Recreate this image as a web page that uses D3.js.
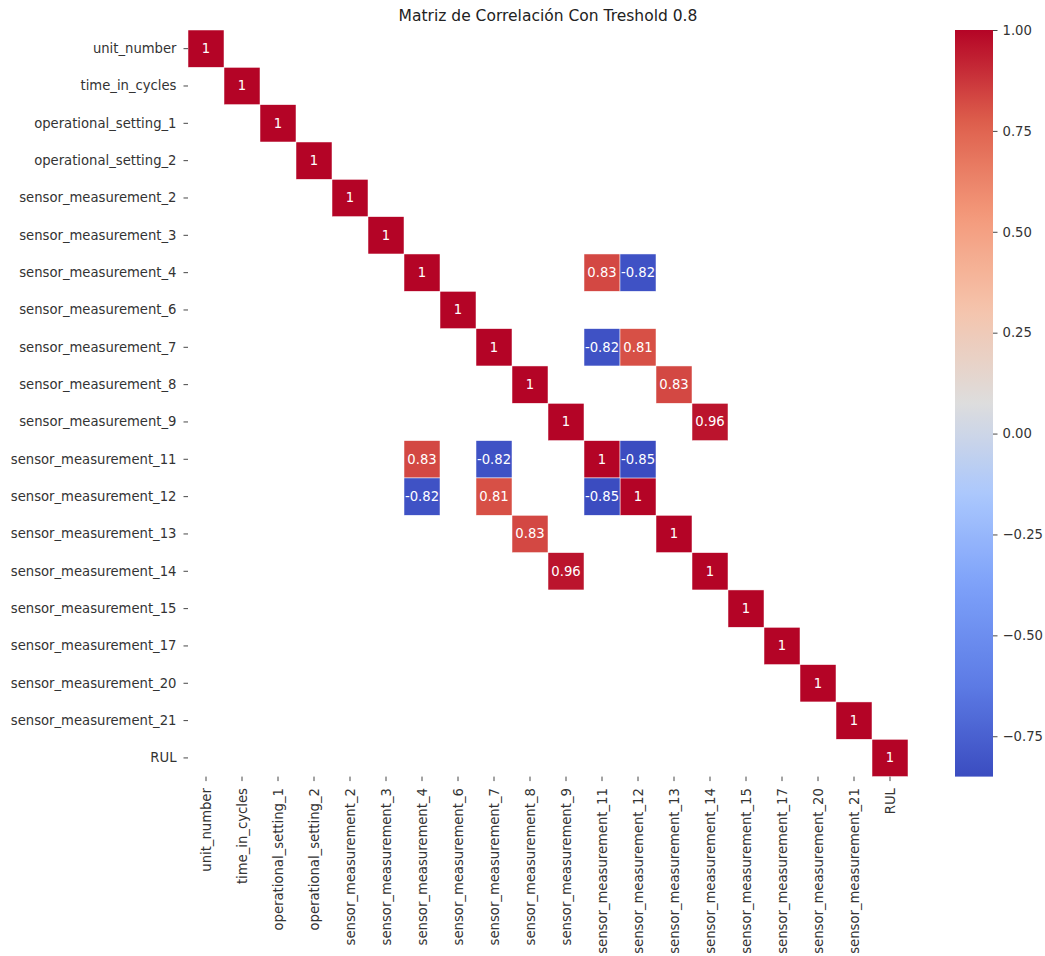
<!DOCTYPE html>
<html>
<head>
<meta charset="utf-8">
<script src="https://cdn.jsdelivr.net/npm/d3@7"></script>
<style>
  body { margin: 0; background: #fff; }
  text { font-family: "DejaVu Sans", sans-serif; }
</style>
</head>
<body>
<div id="heatmap"></div>
<script>
// variables kept after the 0.8 threshold
var labels = ["unit_number", "time_in_cycles", "operational_setting_1", "operational_setting_2",
  "sensor_measurement_2", "sensor_measurement_3", "sensor_measurement_4", "sensor_measurement_6",
  "sensor_measurement_7", "sensor_measurement_8", "sensor_measurement_9", "sensor_measurement_11",
  "sensor_measurement_12", "sensor_measurement_13", "sensor_measurement_14", "sensor_measurement_15",
  "sensor_measurement_17", "sensor_measurement_20", "sensor_measurement_21", "RUL"];

// off-diagonal pairs with |r| >= 0.8 (symmetric)
var pairA = ["sensor_measurement_4", "sensor_measurement_4", "sensor_measurement_7", "sensor_measurement_7",
  "sensor_measurement_8", "sensor_measurement_9", "sensor_measurement_11"];
var pairB = ["sensor_measurement_11", "sensor_measurement_12", "sensor_measurement_11", "sensor_measurement_12",
  "sensor_measurement_13", "sensor_measurement_14", "sensor_measurement_12"];
var pairR = [0.83, -0.82, -0.82, 0.81, 0.83, 0.96, -0.85];

var colorbarTicks = [1.00, 0.75, 0.50, 0.25, 0.00, -0.25, -0.50, -0.75];
var vmin = -0.85, vmax = 1.0;

// build cell list
var cells = [];
labels.forEach(function(l) { cells.push({ row: l, col: l, value: 1 }); });
pairA.forEach(function(a, i) {
  cells.push({ row: a, col: pairB[i], value: pairR[i] });
  cells.push({ row: pairB[i], col: a, value: pairR[i] });
});

// dimensions
var margin = {top: 30, left: 188},
    width = 720,
    height = 746.6;

var svg = d3.select("#heatmap")
  .append("svg")
    .attr("width", 1045)
    .attr("height", 956);

var g = svg.append("g")
    .attr("transform", "translate(" + margin.left + "," + margin.top + ")");

var x = d3.scaleBand().domain(labels).range([0, width]);
var y = d3.scaleBand().domain(labels).range([0, height]);

// coolwarm colormap (approx. matplotlib)
var cwStops = [0, 0.125, 0.25, 0.375, 0.5, 0.625, 0.75, 0.875, 1];
var cwColors = ["#3b4cc0", "#5d7ce6", "#7b9ff9", "#aac7fd", "#dddddd", "#f5c4ac", "#f49a7b", "#de604d", "#b40426"];
var cw = d3.scaleLinear().domain(cwStops).range(cwColors).interpolate(d3.interpolateRgb);
var color = function(v) { return cw((v - vmin) / (vmax - vmin)); };

// cells
g.selectAll("rect.cell")
  .data(cells)
  .enter()
  .append("rect")
    .attr("class", "cell")
    .attr("x", function(d) { return x(d.col); })
    .attr("y", function(d) { return y(d.row); })
    .attr("width", x.bandwidth())
    .attr("height", y.bandwidth())
    .style("fill", function(d) { return color(d.value); })
    .style("stroke", "#fff")
    .style("stroke-width", 0.5);

// annotations
g.selectAll("text.annot")
  .data(cells)
  .enter()
  .append("text")
    .attr("class", "annot")
    .attr("x", function(d) { return x(d.col) + x.bandwidth() / 2; })
    .attr("y", function(d) { return y(d.row) + y.bandwidth() / 2; })
    .attr("text-anchor", "middle")
    .attr("dominant-baseline", "central")
    .attr("font-size", "13.2px")
    .style("fill", "#fff")
    .text(function(d) { return d.value === 1 ? "1" : d3.format(".2f")(d.value).replace("\u2212", "-"); });

// axes
var yAxis = g.append("g")
    .call(d3.axisLeft(y).tickSize(4.5).tickPadding(7));
var xAxis = g.append("g")
    .attr("transform", "translate(0," + height + ")")
    .call(d3.axisBottom(x).tickSize(4.5).tickPadding(4));

[xAxis, yAxis].forEach(function(a) {
  a.select(".domain").remove();
  a.selectAll(".tick line").style("stroke", "#333").style("stroke-width", 0.9);
  a.selectAll("text").attr("font-size", "13.2px").style("fill", "#333").attr("font-family", "DejaVu Sans");
});
xAxis.selectAll("text")
    .attr("transform", "rotate(-90)")
    .attr("text-anchor", "end")
    .attr("dy", "0.35em")
    .attr("x", -11.5)
    .attr("y", 0);

// title
svg.append("text")
    .attr("x", margin.left + width / 2)
    .attr("y", 21)
    .attr("text-anchor", "middle")
    .attr("font-size", "15.5px")
    .style("fill", "#222")
    .text("Matriz de Correlación Con Treshold 0.8");

// colorbar
var cbX = 955, cbW = 38, cbTop = 30, cbH = 746.6;
var defs = svg.append("defs");
var grad = defs.append("linearGradient")
    .attr("id", "cbgrad")
    .attr("x1", "0").attr("y1", "1").attr("x2", "0").attr("y2", "0");
d3.range(0, 1.0001, 0.02).forEach(function(t) {
  grad.append("stop")
      .attr("offset", t)
      .attr("stop-color", cw(t));
});
svg.append("rect")
    .attr("x", cbX)
    .attr("y", cbTop)
    .attr("width", cbW)
    .attr("height", cbH)
    .style("fill", "url(#cbgrad)");

var cy = d3.scaleLinear().domain([vmin, vmax]).range([cbTop + cbH, cbTop]);
var cAxis = svg.append("g")
    .attr("transform", "translate(" + (cbX + cbW) + ",0)")
    .call(d3.axisRight(cy).tickValues(colorbarTicks).tickFormat(d3.format(".2f")).tickSize(4.5).tickPadding(5));
cAxis.select(".domain").remove();
cAxis.selectAll(".tick line").style("stroke", "#333").style("stroke-width", 0.9);
cAxis.selectAll("text").attr("font-size", "13.2px").style("fill", "#333").attr("font-family", "DejaVu Sans");
</script>
</body>
</html>
